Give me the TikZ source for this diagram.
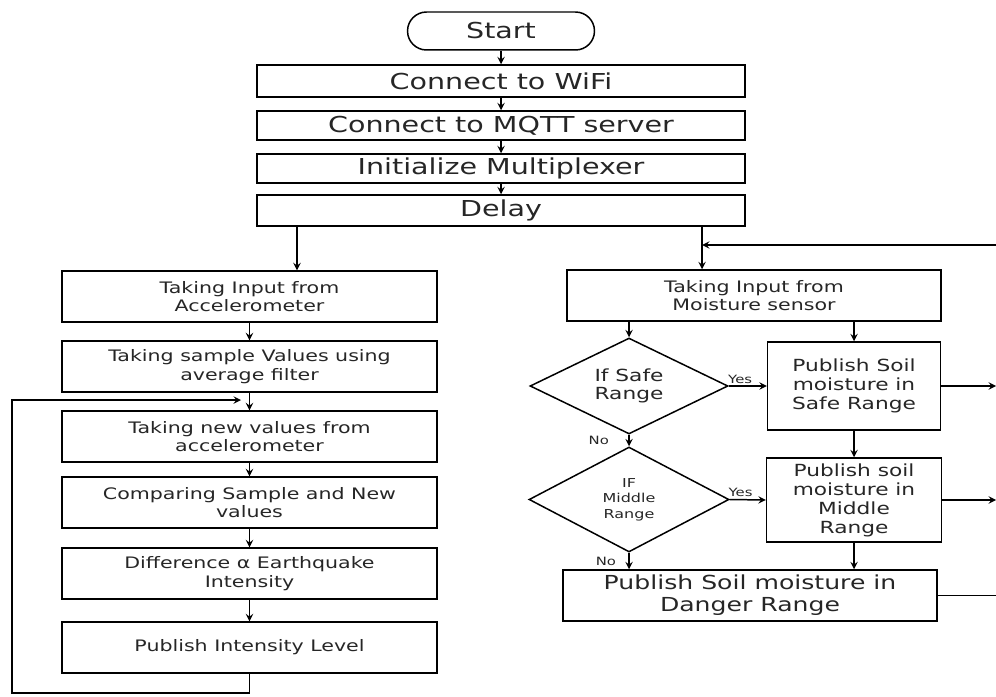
\documentclass[tikz,border=0pt]{standalone}
\usepackage{fontspec}
\setmainfont{DejaVu Sans}[FakeStretch=1.3]
\usetikzlibrary{shapes.geometric}
\tikzset{
  box/.style={draw, align=center, inner sep=1pt, text=black!85},
  topbox/.style={box, minimum width=9.76cm, font=\fontsize{12.5}{15}\selectfont},
  leftbox/.style={box, minimum width=7.5cm, minimum height=1.02cm, font=\fontsize{9}{10.5}\selectfont},
  choice/.style={draw, diamond, aspect=2, inner sep=0pt, align=center, text=black!85},
  tag/.style={font=\fontsize{6.5}{7}\selectfont, text=black!85, inner sep=1pt},
}
\begin{document}
\begin{tikzpicture}[x=0.02cm, y=-0.02cm, >=stealth, line width=0.85pt]
    \useasboundingbox (0,0) rectangle (996,696);

    \node[box, rounded corners=0.38cm, minimum width=3.74cm, minimum height=0.76cm, font=\fontsize{12.5}{15}\selectfont] (start) at (501,31) {Start};
    \node[topbox, minimum height=0.64cm] (wifi) at (501,81) {Connect to WiFi};
    \node[topbox, minimum height=0.58cm] (mqtt) at (501,125.5) {Connect to MQTT server};
    \node[topbox, minimum height=0.58cm] (init) at (501,168.5) {Initialize Multiplexer};
    \node[topbox, minimum height=0.62cm] (delay) at (501,210.5) {Delay};

    \node[leftbox] (acc) at (249.5,296.5) {Taking Input from\\Accelerometer};
    \node[leftbox] (sample) at (249.5,366.5) {Taking sample Values using\\average filter};
    \node[leftbox] (newval) at (249.5,436.5) {Taking new values from\\accelerometer};
    \node[leftbox] (compare) at (249.5,502.5) {Comparing Sample and New\\values};
    \node[leftbox] (diff) at (249.5,573.5) {Difference α Earthquake\\Intensity};
    \node[leftbox] (publish) at (249.5,647.5) {Publish Intensity Level};

    \node[box, minimum width=7.48cm, minimum height=1.02cm, font=\fontsize{9}{10.5}\selectfont] (moist) at (754,295.5) {Taking Input from\\Moisture sensor};
    \node[choice, minimum width=3.96cm, minimum height=1.92cm, font=\fontsize{9.5}{10.5}\selectfont] (safeq) at (629,386) {If Safe\\Range};
    \node[choice, minimum width=4cm, minimum height=2.1cm, font=\fontsize{7}{8.8}\selectfont] (midq) at (629,499.5) {IF\\Middle\\Range};
    \node[box, minimum width=3.46cm, minimum height=1.76cm, font=\fontsize{9.5}{11}\selectfont] (safe) at (854,386) {Publish Soil\\moisture in\\Safe Range};
    \node[box, minimum width=3.5cm, minimum height=1.68cm, font=\fontsize{9.5}{10.8}\selectfont] (middle) at (854,500) {Publish soil\\moisture in\\Middle\\Range};
    \node[box, minimum width=7.48cm, minimum height=1.02cm, font=\fontsize{11}{12.5}\selectfont] (danger) at (750,595.5) {Publish Soil moisture in\\Danger Range};

    \coordinate (back) at (996,245);
    \coordinate (join) at (241,400);

    \draw[->] (start) -- (wifi);
    \draw[->] (wifi) -- (mqtt);
    \draw[->] (mqtt) -- (init);
    \draw[->] (init) -- (delay);
    \draw[->] (297,0 |- delay.south) -- (297,0 |- acc.north);
    \draw[->] (702,0 |- delay.south) -- (702,0 |- moist.north);
    \draw[->] (back) -- (702,0 |- back);

    \draw[->] (acc) -- (sample);
    \draw[->] (sample) -- (newval);
    \draw[->] (newval) -- (compare);
    \draw[->] (compare) -- (diff);
    \draw[->] (diff) -- (publish);
    \draw[->] (publish.south) -- (publish.south |- 0,693) -| (12,0 |- join) -- (join);

    \draw[->] (safeq |- moist.south) -- (safeq.north);
    \draw[->] (safe |- moist.south) -- (safe.north);
    \draw[->] (safeq.east) -- node[tag, above, pos=0.3] {Yes} (safe.west);
    \draw[->] (safeq.south) -- node[tag, left=10pt] {No} (midq.north);
    \draw[->] (midq.east) -- node[tag, above, pos=0.3] {Yes} (middle.west);
    \draw[->] (safe) -- (middle);
    \draw[->] (midq.south) -- node[tag, left=6pt] {No} (midq.south |- danger.north);
    \draw[->] (middle.south) -- (middle.south |- danger.north);
    \draw[->] (safe.east) -- (996,0 |- safe.east);
    \draw[->] (middle.east) -- (996,0 |- middle.east);
    \draw (danger.east) -- (996,0 |- danger.east);
\end{tikzpicture}
\end{document}
